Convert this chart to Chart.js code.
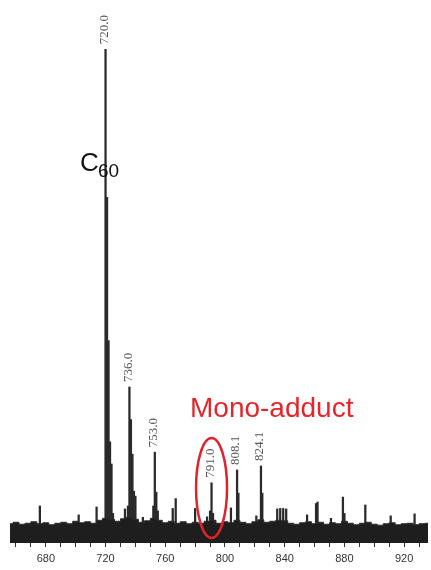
<!DOCTYPE html>
<html>
<head>
<meta charset="utf-8">
<title>MALDI-TOF spectrum</title>
<script src="https://cdn.jsdelivr.net/npm/chart.js@4.4.1/dist/chart.umd.min.js"></script>
<style>
    html, body { margin: 0; padding: 0; background: #fff; }
    #wrap { width: 431px; height: 570px; position: relative; }
</style>
</head>
<body>
<div id="wrap"><canvas id="ms"></canvas></div>
<script>
// m/z of each peak and its relative intensity (% of the 720 peak)
const peakMass = [
    676, 702, 714, 720, 721, 722, 723, 724, 725, 733, 735, 736, 737, 738, 739, 740, 745,
    752, 753, 754, 755, 765, 767, 780, 788, 790, 791, 792, 804, 808.1, 809,
    821, 824.1, 825, 835, 837, 839, 841, 855, 861, 862, 871, 879, 880, 894, 911, 927
];
const peakIntensity = [
    7.5, 5.7, 7.3, 100, 70, 41, 20.5, 16, 6, 6.9, 7.5, 31.6, 25, 18, 10.5, 9.5, 5.2,
    7.5, 18.4, 10.3, 6.5, 7, 9, 7, 5.3, 6.5, 12.2, 6, 7.1, 14.8, 10.1,
    5.5, 15.6, 10.1, 6.9, 7, 7, 6.9, 5.7, 8, 8.3, 5, 9.3, 6, 7.7, 5.5, 5.9
];

// peaks that carry a printed m/z value
const labelMass = [720.0, 736.0, 753.0, 791.0, 808.1, 824.1];
const labelText = ['720.0', '736.0', '753.0', '791.0', '808.1', '824.1'];

// baseline noise level, one value every 4 m/z from 656
const noiseStart = 656;
const noiseStep = 4;
const noiseLevel = [
    3.9, 4.2, 3.8, 4.0, 4.3, 3.9, 4.1, 3.7, 4.0, 4.2, 3.9, 4.4, 4.1, 4.3, 4.0, 4.6,
    5.0, 4.8, 4.4, 4.9, 5.2, 4.8, 4.2, 4.5, 5.0, 4.6, 4.1, 4.4, 4.0, 4.3, 3.9, 4.2,
    4.0, 4.4, 4.6, 4.0, 4.3, 4.1, 4.6, 4.2, 3.9, 4.3, 4.7, 4.2, 4.4, 4.6, 4.5, 4.0,
    3.8, 4.1, 4.3, 3.9, 4.2, 3.8, 4.1, 3.9, 4.4, 4.0, 3.7, 4.0, 4.2, 3.8, 3.6, 3.9,
    4.1, 3.7, 3.9, 4.0, 3.7, 3.9, 4.0
];

const xMin = 656;
const xMax = 938;

const sticks = peakMass.map((m, i) => ({ x: m, y: peakIntensity[i] }));
const noise = noiseLevel.map((v, i) => ({ x: noiseStart + i * noiseStep, y: v }));

// rotated m/z values above the labelled peaks, plus the hand-drawn notes
const annotations = {
    id: 'annotations',
    afterDatasetsDraw(chart) {
        const ctx = chart.ctx;
        const xs = chart.scales.x;
        const ys = chart.scales.y;

        ctx.save();
        ctx.font = '13px "Liberation Serif", serif';
        ctx.fillStyle = '#555';
        ctx.textAlign = 'left';
        ctx.textBaseline = 'middle';
        labelMass.forEach((m, i) => {
            const idx = peakMass.indexOf(m);
            const px = xs.getPixelForValue(m);
            const py = ys.getPixelForValue(peakIntensity[idx]) - 5;
            ctx.save();
            ctx.translate(px - 1, py);
            ctx.rotate(-Math.PI / 2);
            ctx.fillText(labelText[i], 0, 0);
            ctx.restore();
        });

        // C60 tag next to the main peak
        ctx.fillStyle = '#111';
        ctx.textBaseline = 'alphabetic';
        ctx.font = '26px "Liberation Sans", sans-serif';
        ctx.fillText('C', 80, 171);
        ctx.font = '19px "Liberation Sans", sans-serif';
        ctx.fillText('60', 98, 177);

        // mono-adduct note and ring round the 791 peak
        ctx.fillStyle = '#e3262b';
        ctx.font = '28px "Liberation Sans", sans-serif';
        ctx.fillText('Mono-adduct', 190, 417);

        ctx.strokeStyle = '#e0232a';
        ctx.lineWidth = 2.5;
        ctx.beginPath();
        ctx.ellipse(xs.getPixelForValue(791), 488, 15.5, 50, 0, 0, Math.PI * 2);
        ctx.stroke();
        ctx.restore();
    }
};

new Chart(document.getElementById('ms'), {
    type: 'bar',
    data: {
        datasets: [
            {
                type: 'line',
                label: 'noise',
                data: noise,
                stepped: 'middle',
                fill: 'origin',
                backgroundColor: '#1e1e1e',
                borderColor: '#2b2b2b',
                borderWidth: 1,
                pointRadius: 0,
                order: 0
            },
            {
                label: 'peaks',
                data: sticks,
                backgroundColor: '#2a2a2a',
                barThickness: 1.6,
                order: 1
            }
        ]
    },
    options: {
        responsive: true,
        maintainAspectRatio: false,
        animation: false,
        layout: { padding: { left: 10, right: 0, top: 0, bottom: 0 } },
        plugins: {
            legend: { display: false },
            tooltip: { enabled: false }
        },
        scales: {
            x: {
                type: 'linear',
                min: xMin,
                max: xMax,
                offset: false,
                border: { display: false },
                grid: {
                    offset: false,
                    drawOnChartArea: false,
                    drawTicks: true,
                    tickLength: 4,
                    color: '#333'
                },
                ticks: {
                    stepSize: 10,
                    includeBounds: false,
                    autoSkip: false,
                    maxRotation: 0,
                    padding: 5,
                    color: '#333',
                    font: { size: 11, family: '"Liberation Sans", sans-serif' },
                    callback: v => (v % 40 === 0 ? String(v) : '')
                },
                afterFit(scale) {
                    scale.height = 27;
                    scale.paddingLeft = 0;
                    scale.paddingRight = 0;
                }
            },
            y: {
                display: false,
                min: 0,
                max: 110
            }
        }
    },
    plugins: [annotations]
});
</script>
</body>
</html>
